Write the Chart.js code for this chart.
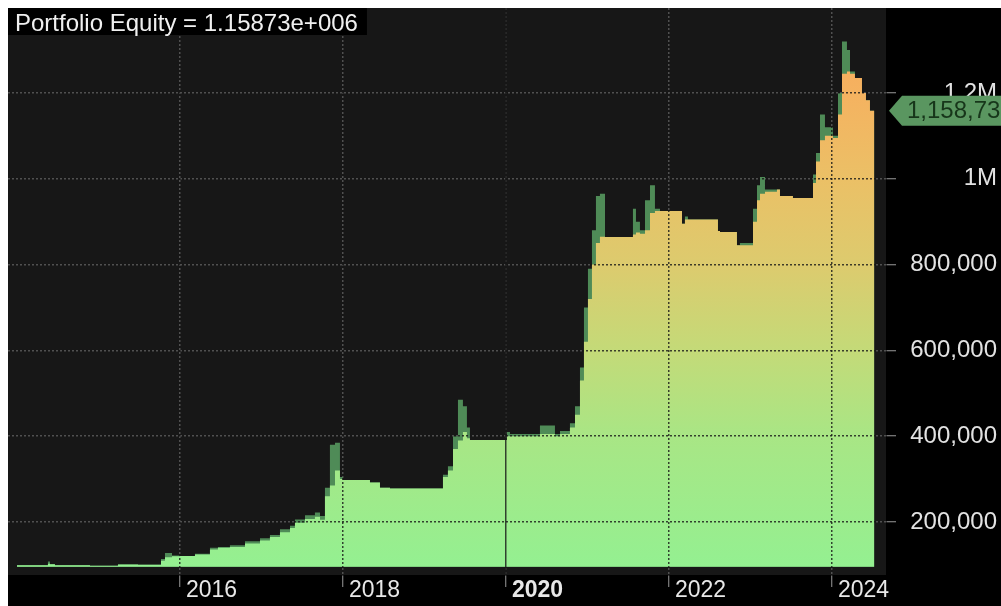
<!doctype html>
<html lang="en">
<head>
<meta charset="utf-8" />
<title>Portfolio Equity</title>
<script src="https://cdn.jsdelivr.net/npm/chart.js"></script>
<style>
  html,body{margin:0;padding:0;background:#fff;overflow:hidden}
  #wrap{width:1001px;height:606px}
  canvas{display:block}
</style>
</head>
<body>
<div id="wrap"><canvas id="equityChart" width="1001" height="606"></canvas></div>
<script>
// equity curve (decimal years -> account value)
const years = [
  2014.000, 2014.380, 2014.405, 2014.466, 2014.896, 2015.239, 2015.485, 2015.767, 2015.816, 2015.902,
  2016.000, 2016.184, 2016.368, 2016.466, 2016.613, 2016.798, 2016.982, 2017.104, 2017.227, 2017.350,
  2017.411, 2017.534, 2017.656, 2017.718, 2017.779, 2017.840, 2017.902, 2017.963, 2018.000, 2018.331,
  2018.454, 2018.577, 2019.227, 2019.288, 2019.350, 2019.411, 2019.472, 2019.521, 2019.558, 2019.620,
  2020.012, 2020.049, 2020.417, 2020.601, 2020.663, 2020.785, 2020.847, 2020.908, 2020.957, 2021.006,
  2021.055, 2021.104, 2021.153, 2021.215, 2021.301, 2021.558, 2021.595, 2021.644, 2021.706, 2021.767,
  2021.828, 2021.890, 2022.160, 2022.196, 2022.233, 2022.601, 2022.626, 2022.834, 2022.871, 2023.031,
  2023.080, 2023.117, 2023.178, 2023.325, 2023.362, 2023.521, 2023.767, 2023.804, 2023.853, 2023.914,
  2024.012, 2024.074, 2024.123, 2024.184, 2024.221, 2024.282, 2024.368, 2024.417, 2024.466, 2024.520
];
const equity = [
  99000, 99000, 103000, 101500, 99500, 98000, 101000, 100500, 110000, 118000,
  120000, 121000, 124000, 136000, 140000, 142000, 150000, 157000, 165000, 176000,
  186000, 198000, 207000, 212000, 205000, 260000, 285000, 320000, 300000, 298000,
  292000, 280000, 278000, 305000, 320000, 370000, 390000, 410000, 395000, 391000,
  391000, 400000, 400000, 405000, 400000, 405000, 420000, 450000, 530000, 620000,
  720000, 800000, 850000, 865000, 864000, 864000, 870000, 875000, 872000, 880000,
  920000, 925000, 925000, 895000, 905000, 905000, 878000, 876000, 845000, 845000,
  900000, 950000, 965000, 970000, 975000, 960000, 955000, 990000, 1040000, 1090000,
  1100000, 1095000, 1150000, 1245000, 1250000, 1245000, 1235000, 1200000, 1183000, 1158730
];
// intraperiod highs (the darker green spikes)
const highs = [
  99000, 99000, 108000, 101500, 99500, 98000, 101000, 100500, 114000, 128000,
  122000, 121000, 126000, 140000, 142000, 146000, 155000, 162000, 170000, 183000,
  191000, 206000, 216000, 222000, 214000, 280000, 380000, 385000, 305000, 298000,
  292000, 280000, 278000, 310000, 330000, 400000, 485000, 470000, 420000, 391000,
  391000, 410000, 405000, 425000, 405000, 412000, 430000, 470000, 560000, 700000,
  790000, 880000, 960000, 965000, 864000, 864000, 930000, 900000, 880000, 950000,
  985000, 930000, 925000, 895000, 912000, 905000, 878000, 876000, 845000, 850000,
  930000, 985000, 1004000, 975000, 975000, 960000, 955000, 1010000, 1060000, 1150000,
  1120000, 1100000, 1200000, 1320000, 1300000, 1250000, 1235000, 1200000, 1183000, 1158730
];
const yearTicks = [2016, 2018, 2020, 2022, 2024];
const valueTicks = [200000, 400000, 600000, 800000, 1000000, 1200000];
const titleText = 'Portfolio Equity = 1.15873e+006';

const FONT = "'Liberation Sans', Arial, sans-serif";
const FILL_BASE = 96000;
const X_MIN = 2013.89, X_MAX = 2024.663;
const Y_MIN = 76500, Y_MAX = 1398000;

function equityFill(context){
  const chart = context.chart;
  if(!chart.chartArea) return '#94f091';
  const y = chart.scales.y;
  const g = chart.ctx.createLinearGradient(0, y.getPixelForValue(FILL_BASE), 0, y.getPixelForValue(1300000));
  g.addColorStop(0, '#94f091');
  g.addColorStop(0.25, '#a8e685');
  g.addColorStop(0.42, '#c4da78');
  g.addColorStop(0.58, '#dccb6e');
  g.addColorStop(0.75, '#ebc066');
  g.addColorStop(0.92, '#f5b260');
  g.addColorStop(1, '#f7ac5c');
  return g;
}

// no auto padding for edge labels, the box sizes are fixed
function noPad(s){ s.paddingTop = 0; s.paddingBottom = 0; s.paddingLeft = 0; s.paddingRight = 0; }
const setYearTicks = s=>{ s.ticks = yearTicks.map(v=>({value:v})); };
const setValueTicks = s=>{ s.ticks = valueTicks.map(v=>({value:v})); };

// background, white frame, title box and the last-value tag
const frame = {
  id:'frame',
  beforeDraw(chart){
    const {ctx, chartArea:a, width, height} = chart;
    ctx.save();
    ctx.fillStyle = '#000'; ctx.fillRect(0,0,width,height);
    ctx.fillStyle = '#171717'; ctx.fillRect(a.left,a.top,a.right-a.left,a.bottom-a.top);
    ctx.restore();
  },
  afterDraw(chart){
    const {ctx, chartArea:a, width, height} = chart;
    ctx.save();
    ctx.fillStyle = '#fff';
    ctx.fillRect(0, 0, width, a.top);
    ctx.fillRect(0, 0, a.left, height);

    ctx.font = '24px '+FONT;
    const tw = ctx.measureText(titleText).width;
    ctx.fillStyle = '#000';
    ctx.fillRect(a.left, a.top, tw+16, 27);
    ctx.fillStyle = '#f0f0f0';
    ctx.textBaseline = 'alphabetic';
    ctx.fillText(titleText, a.left+7, a.top+23);

    const last = equity[equity.length-1];
    const ty = chart.scales.y.getPixelForValue(last);
    const x0 = a.right+3;
    ctx.fillStyle = '#5a9660';
    ctx.beginPath();
    ctx.moveTo(x0, ty);
    ctx.lineTo(x0+13, ty-15);
    ctx.lineTo(width, ty-15);
    ctx.lineTo(width, ty+15);
    ctx.lineTo(x0+13, ty+15);
    ctx.closePath();
    ctx.fill();
    ctx.fillStyle = '#17361a';
    ctx.textBaseline = 'middle';
    ctx.fillText(last.toLocaleString('en-US'), x0+18, ty+1);
    ctx.restore();
  }
};

const ctx = document.getElementById('equityChart').getContext('2d');
new Chart(ctx, {
  type:'line',
  data:{datasets:[
    {label:'Equity', data: years.map((x,i)=>({x:x, y:equity[i]})), stepped:'after',
     fill:{value:FILL_BASE}, backgroundColor:equityFill, borderColor:'transparent', borderWidth:0, pointRadius:0},
    {label:'High', data: years.map((x,i)=>({x:x, y:highs[i]})), stepped:'after',
     fill:{value:FILL_BASE}, backgroundColor:'#4f8b57', borderColor:'transparent', borderWidth:0, pointRadius:0}
  ]},
  options:{
    responsive:false, animation:false, devicePixelRatio:1,
    layout:{padding:{left:8, top:8, right:4, bottom:0}},
    plugins:{legend:{display:false}, tooltip:{enabled:false}},
    scales:{
      // main axes: labels, tick marks, and the dark grid drawn over the fill
      x:{
        type:'linear', min:X_MIN, max:X_MAX,
        afterBuildTicks:setYearTicks,
        afterFit:s=>{ s.height = 31; noPad(s); },
        grid:{z:1, color:'rgba(22,22,22,0.8)', lineWidth:1.5, tickLength:12, tickColor:'#9a9a9a', tickWidth:1},
        border:{display:true, color:'#8a8a8a', width:1.5, dashOffset:2,
                dash:c=>(c.tick && c.tick.value===2020) ? [] : [2,2]},
        ticks:{
          autoSkip:false, maxRotation:0, align:'start', labelOffset:6, padding:-10, color:'#e8e8e8',
          font:c=>({family:FONT, size:23, weight:(c.tick && c.tick.value===2020) ? 'bold' : 'normal'}),
          callback:v=>String(v)
        }
      },
      y:{
        position:'right', min:Y_MIN, max:Y_MAX,
        afterBuildTicks:setValueTicks,
        afterFit:s=>{ s.width = 111; noPad(s); },
        grid:{z:1, color:'rgba(22,22,22,0.8)', lineWidth:1.5, tickLength:10, tickColor:'#9a9a9a', tickWidth:1},
        border:{display:true, color:'#8a8a8a', width:1.5, dash:[2,2], dashOffset:2},
        ticks:{
          crossAlign:'far', color:'#e2e2e2', font:{family:FONT, size:24},
          callback:v=> v>=1000000 ? (v/1000000)+'M' : v.toLocaleString('en-US')
        }
      },
      // same grid again, grey and under the data, for the empty dark part
      xg:{
        type:'linear', position:'bottom', min:X_MIN, max:X_MAX,
        afterBuildTicks:setYearTicks,
        afterFit:s=>{ s.height = 0; noPad(s); },
        grid:{z:-1, color:'#505050', lineWidth:1.5, drawTicks:false},
        border:{display:false, dash:[2,2]},
        ticks:{display:false}
      },
      yg:{
        type:'linear', position:'right', min:Y_MIN, max:Y_MAX,
        afterBuildTicks:setValueTicks,
        afterFit:s=>{ s.width = 0; noPad(s); },
        grid:{z:-1, color:'#505050', lineWidth:1.5, drawTicks:false},
        border:{display:false, dash:[2,2]},
        ticks:{display:false}
      }
    }
  },
  plugins:[frame]
});
</script>
</body>
</html>
